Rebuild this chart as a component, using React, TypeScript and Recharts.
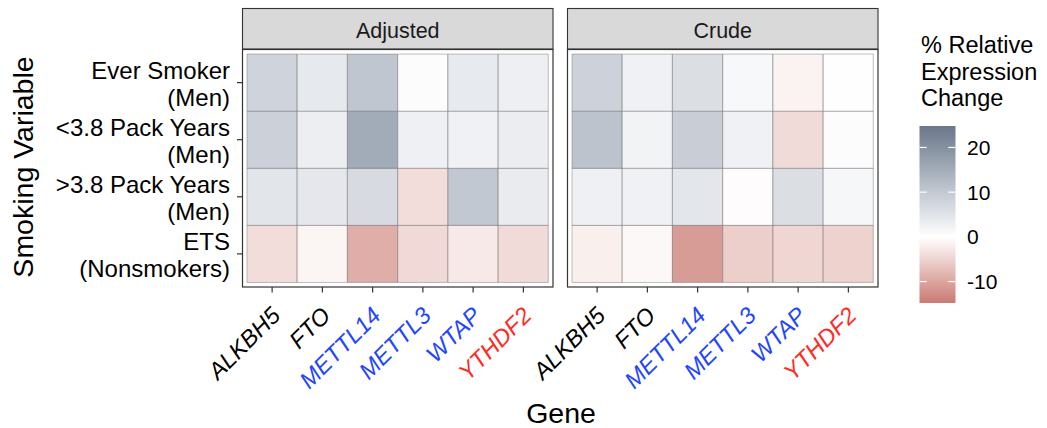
import React from 'react';
import {
  BarChart,
  Bar,
  XAxis,
  YAxis,
  Cell,
  ComposedChart,
  Line,
  ReferenceArea,
  ReferenceLine,
} from 'recharts';

// ---------------- data ----------------
const genes = ['ALKBH5', 'FTO', 'METTL14', 'METTL3', 'WTAP', 'YTHDF2'];
const geneRole = ['eraser', 'eraser', 'writer', 'writer', 'writer', 'reader'];

// smoking variables, top to bottom
const smokingLine1 = ['Ever Smoker', '<3.8 Pack Years', '>3.8 Pack Years', 'ETS'];
const smokingLine2 = ['(Men)', '(Men)', '(Men)', '(Nonsmokers)'];

const facets = ['Adjusted', 'Crude'];

// % relative expression change, per gene
const adjEverSmoker = [8, 4, 10.6, 0.5, 3.8, 2.8];
const adjLowPack = [8.5, 3, 15.3, 2.7, 2.5, 3.2];
const adjHighPack = [4.7, 4.2, 6.5, -3.9, 10.2, 3.6];
const adjEts = [-3.9, -1.2, -9, -4.4, -2.6, -4.2];

const crudeEverSmoker = [8.2, 2.5, 5.8, 1.3, -1.4, 0.1];
const crudeLowPack = [11, 2.2, 9, 2.5, -4.2, 0.5];
const crudeHighPack = [2.7, 2.5, 4.5, -0.3, 5.8, 1.5];
const crudeEts = [-1.8, -0.8, -11, -5.5, -4.8, -5.2];

// legend
const legendTitle = ['% Relative', 'Expression', 'Change'];
const legendTicks = [-10, 0, 10, 20];
const legendMin = -14.8;
const legendMax = 24.8;

// ---------------- styles ----------------
const FONT = '"Liberation Sans", Arial, Helvetica, sans-serif';
const roleColor: Record<string, string> = {
  eraser: '#000000',
  writer: '#1f45ff',
  reader: '#ff2a1f',
};
const scaleStopValues = [-14.8, -10, -5, 0, 5, 10, 20, 24.8];
const scaleStopColors = ['#c97a72', '#dba59f', '#eed4d0', '#ffffff', '#e0e3e8', '#c3c9d2', '#8590a0', '#6b7889'];

function hexToRgb(h: string) {
  const n = parseInt(h.slice(1), 16);
  return [(n >> 16) & 255, (n >> 8) & 255, n & 255];
}
function colorFor(v: number) {
  const vals = scaleStopValues;
  let i = 0;
  if (v <= vals[0]) return scaleStopColors[0];
  if (v >= vals[vals.length - 1]) return scaleStopColors[vals.length - 1];
  while (i < vals.length - 2 && v > vals[i + 1]) i++;
  const t = (v - vals[i]) / (vals[i + 1] - vals[i]);
  const a = hexToRgb(scaleStopColors[i]);
  const b = hexToRgb(scaleStopColors[i + 1]);
  const c = a.map((x, k) => Math.round(x + (b[k] - x) * t));
  return `rgb(${c[0]},${c[1]},${c[2]})`;
}

const W = 1047;
const H = 428;
const PANEL_TOP = 49.5;
const PANEL_BOTTOM = 287;
const PANELS = [
  { left: 242.5, right: 553 },
  { left: 567.5, right: 878 },
];
const Y_AXIS_W = 80;
const X_AXIS_H = 100;

const rowTicks = [0.5, 1.5, 2.5, 3.5];

const YTick = (props: any) => {
  const { x, y, payload } = props;
  const idxFromBottom = rowTicks.indexOf(payload.value);
  const idx = 3 - idxFromBottom;
  return (
    <text x={x - 7} y={y} textAnchor="end" fontSize={24} fontFamily={FONT} fill="#000">
      <tspan x={x - 7} dy={-3.5}>{smokingLine1[idx]}</tspan>
      <tspan x={x - 7} dy={26.5}>{smokingLine2[idx]}</tspan>
    </text>
  );
};

const XTick = (props: any) => {
  const { x, y, payload } = props;
  const i = genes.indexOf(payload.value);
  return (
    <text
      transform={`translate(${x + 9.5},${y + 24.5}) rotate(-45)`}
      textAnchor="end"
      fontSize={23.5}
      fontStyle="italic"
      fontFamily={FONT}
      fill={roleColor[geneRole[i]]}
    >
      {payload.value}
    </text>
  );
};

function Panel({ rows, idx }: { rows: number[][]; idx: number }) {
  const p = PANELS[idx];
  const data = genes.map((g) => ({ gene: g, r0: 1, r1: 1, r2: 1, r3: 1 }));
  const showY = idx === 0;
  const yw = showY ? Y_AXIS_W : 0;
  return (
    <div style={{ position: 'absolute', left: 0, top: 0 }}>
      <BarChart
        width={W}
        height={H}
        data={data}
        barCategoryGap={0}
        barGap={0}
        margin={{ top: PANEL_TOP, left: p.left - yw, right: W - p.right, bottom: H - PANEL_BOTTOM - X_AXIS_H }}
      >
        <XAxis
          dataKey="gene"
          type="category"
          height={X_AXIS_H}
          padding={{ left: 4.5, right: 4.5 }}
          axisLine={false}
          tickSize={5.5}
          tickMargin={0}
          tickLine={{ stroke: '#333333', strokeWidth: 1.2 }}
          tick={<XTick />}
          interval={0}
        />
        <YAxis
          type="number"
          domain={[-0.08, 4.08]}
          ticks={rowTicks}
          hide={!showY}
          width={yw}
          axisLine={false}
          tickSize={5.5}
          tickMargin={0}
          tickLine={{ stroke: '#333333', strokeWidth: 1.2 }}
          tick={<YTick />}
          interval={0}
        />
        {[0, 1, 2, 3].map((k) => (
          <Bar key={k} dataKey={`r${k}`} stackId="s" isAnimationActive={false}>
            {genes.map((g, i) => (
              <Cell
                key={g}
                fill={colorFor(rows[3 - k][i])}
                stroke="rgba(90,90,90,0.55)"
                strokeWidth={0.7}
              />
            ))}
          </Bar>
        ))}
      </BarChart>
    </div>
  );
}

const CB = { left: 919.5, right: 955.5, top: 126, bottom: 303 };

const LegendTick = (props: any) => {
  const { x, y, payload } = props;
  return (
    <text x={x + 11.5} y={y} dy="0.36em" fontSize={21} fontFamily={FONT} fill="#000">
      {payload.value}
    </text>
  );
};

function ColorBar() {
  const cbData = [
    { x: 0, v: legendMin },
    { x: 1, v: legendMax },
  ];
  return (
    <div style={{ position: 'absolute', left: 0, top: 0 }}>
      <ComposedChart
        width={W}
        height={H}
        data={cbData}
        margin={{ top: CB.top, bottom: H - CB.bottom, left: CB.left, right: W - CB.right - 60 }}
      >
        <XAxis dataKey="x" type="number" domain={[0, 1]} hide height={0} />
        <YAxis
          type="number"
          orientation="right"
          domain={[legendMin, legendMax]}
          ticks={legendTicks}
          width={60}
          axisLine={false}
          tickLine={false}
          tickSize={0}
          tickMargin={0}
          tick={<LegendTick />}
          allowDataOverflow
        />
        <ReferenceArea y1={legendMin} y2={legendMax} fill="url(#cbGrad)" fillOpacity={1} stroke="none" />
        {legendTicks.map((t) => (
          <ReferenceLine
            key={`a${t}`}
            segment={[
              { x: 0, y: t },
              { x: 0.2, y: t },
            ]}
            stroke="#ffffff"
            strokeWidth={1.2}
          />
        ))}
        {legendTicks.map((t) => (
          <ReferenceLine
            key={`b${t}`}
            segment={[
              { x: 0.8, y: t },
              { x: 1, y: t },
            ]}
            stroke="#ffffff"
            strokeWidth={1.2}
          />
        ))}
        <Line dataKey="v" stroke="none" strokeOpacity={0} dot={false} isAnimationActive={false} />
      </ComposedChart>
    </div>
  );
}

export default function App() {
  const gradStops: number[] = [];
  for (let v = legendMax; v >= legendMin - 1e-9; v -= 0.4) gradStops.push(v);
  gradStops.push(legendMin);
  const panelRows = [
    [adjEverSmoker, adjLowPack, adjHighPack, adjEts],
    [crudeEverSmoker, crudeLowPack, crudeHighPack, crudeEts],
  ];
  return (
    <div style={{ position: 'absolute', left: 0, top: 0, width: W, height: H, background: '#fff', fontFamily: FONT }}>
      <svg width={0} height={0} style={{ position: 'absolute' }}>
        <defs>
          <linearGradient id="cbGrad" x1="0" y1="0" x2="0" y2="1">
            {gradStops.map((v, i) => (
              <stop
                key={i}
                offset={`${((legendMax - v) / (legendMax - legendMin)) * 100}%`}
                stopColor={colorFor(v)}
              />
            ))}
          </linearGradient>
        </defs>
      </svg>
      {panelRows.map((rows, i) => (
        <Panel key={i} rows={rows} idx={i} />
      ))}
      <ColorBar />
      <svg width={W} height={H} style={{ position: 'absolute', left: 0, top: 0, pointerEvents: 'none' }}>
        {PANELS.map((p, i) => (
          <g key={i}>
            <rect x={p.left} y={8.5} width={p.right - p.left} height={40.5} fill="#d9d9d9" stroke="#333333" strokeWidth={1.1} />
            <text x={(p.left + p.right) / 2} y={37.5} textAnchor="middle" fontSize={21.5} fontFamily={FONT} fill="#1a1a1a">
              {facets[i]}
            </text>
            <rect
              x={p.left}
              y={PANEL_TOP}
              width={p.right - p.left}
              height={PANEL_BOTTOM - PANEL_TOP}
              fill="none"
              stroke="#333333"
              strokeWidth={1.2}
            />
          </g>
        ))}
        <text x={561} y={423} textAnchor="middle" fontSize={28.5} fontFamily={FONT} fill="#000">
          Gene
        </text>
        <text transform="translate(33,167) rotate(-90)" textAnchor="middle" fontSize={28.5} fontFamily={FONT} fill="#000">
          Smoking Variable
        </text>
        {legendTitle.map((t, i) => (
          <text key={t} x={921} y={53 + i * 26.5} fontSize={23.5} fontFamily={FONT} fill="#000">
            {t}
          </text>
        ))}
      </svg>
    </div>
  );
}
